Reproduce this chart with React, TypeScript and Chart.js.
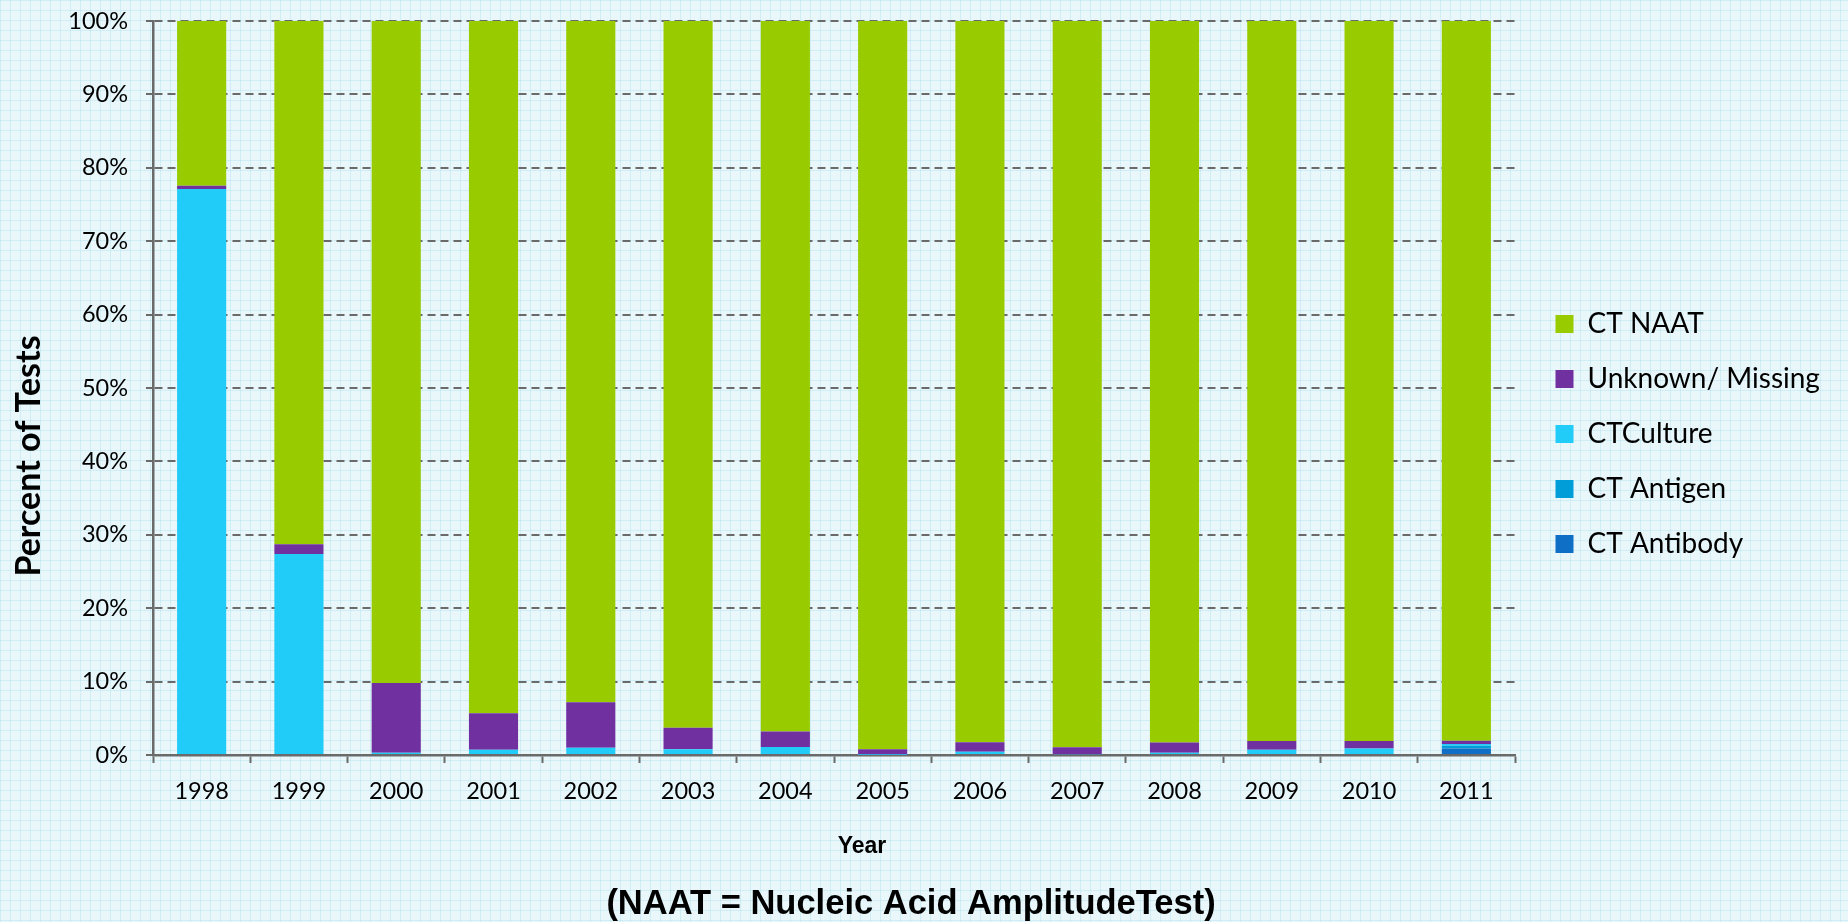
import React, { useEffect, useRef } from "react";
import { Chart, registerables } from "chart.js";

Chart.register(...registerables);

const YEARS = ["1998", "1999", "2000", "2001", "2002", "2003", "2004", "2005", "2006", "2007", "2008", "2009", "2010", "2011"];
const CT_ANTIBODY = [0, 0, 0, 0, 0, 0, 0, 0, 0, 0, 0, 0, 0, 0.9];
const CT_ANTIGEN = [0, 0, 0, 0, 0, 0, 0, 0, 0, 0, 0, 0, 0, 0.35];
const CT_CULTURE = [77.1, 27.4, 0.3, 0.7, 1.0, 0.8, 1.1, 0.05, 0.45, 0.1, 0.3, 0.7, 0.9, 0.25];
const UNKNOWN_MISSING = [0.45, 1.3, 9.5, 5.0, 6.2, 2.9, 2.1, 0.75, 1.3, 0.95, 1.4, 1.2, 1.0, 0.45];
const CT_NAAT = [22.45, 71.3, 90.2, 94.3, 92.8, 96.3, 96.8, 99.2, 98.25, 98.95, 98.3, 98.1, 98.1, 98.05];
const Y_TICKS = [0, 10, 20, 30, 40, 50, 60, 70, 80, 90, 100];

const Y_TITLE = "Percent of Tests";
const X_TITLE = "Year";
const FOOTNOTE = "(NAAT = Nucleic Acid AmplitudeTest)";

const GRID_GREY = "#6a6a6a";
const TICK_FONT = { family: "Lato", size: 23.5 };

const layoutPlugin = {
  id: "layoutTweaks",
  beforeLayout(chart: any) {
    const lg = chart.legend;
    if (lg && !lg._patched) {
      const orig = lg.fit.bind(lg);
      lg.fit = () => {
        orig();
        lg.width = 333;
      };
      lg._patched = true;
    }
  },
  afterLayout(chart: any) {
    const lg = chart.legend;
    if (!lg) return;
    const w = lg.width;
    const h = lg.height;
    lg.left = chart.chartArea.right + 13.5;
    lg.right = lg.left + w;
    lg.top = 283;
    lg.bottom = lg.top + h;
  },
  afterDraw(chart: any) {
    const { ctx, chartArea } = chart;
    ctx.save();
    ctx.fillStyle = "#000";
    ctx.textAlign = "center";
    ctx.textBaseline = "middle";
    const cx = (chartArea.left + chartArea.right) / 2;
    ctx.font = 'bold 23px "Liberation Sans"';
    ctx.fillText(X_TITLE, cx + 28, chartArea.bottom + 92);
    ctx.font = 'bold 34.5px "Liberation Sans"';
    ctx.fillText(FOOTNOTE, cx + 77, chartArea.bottom + 149);
    const cy = (chartArea.top + chartArea.bottom) / 2;
    ctx.translate(29, cy + 68);
    ctx.rotate(-Math.PI / 2);
    ctx.font = 'bold 34px Lato';
    ctx.fillText(Y_TITLE, 0, 0);
    ctx.restore();
  },
};

export default function App() {
  const ref = useRef<HTMLCanvasElement | null>(null);

  useEffect(() => {
    if (!ref.current) return;
    const mk = (label: string, data: number[], color: string) => ({
      label,
      data,
      backgroundColor: color,
      borderWidth: 0,
      barPercentage: 0.505,
      categoryPercentage: 1,
    });
    const chart = new Chart(ref.current, {
      type: "bar",
      data: {
        labels: YEARS,
        datasets: [
          mk("CT Antibody", CT_ANTIBODY, "#0f6fc6"),
          mk("CT Antigen", CT_ANTIGEN, "#009dd9"),
          mk("CTCulture", CT_CULTURE, "#22ccf8"),
          mk("Unknown/ Missing", UNKNOWN_MISSING, "#7030a0"),
          mk("CT NAAT", CT_NAAT, "#99cc00"),
        ],
      },
      options: {
        animation: false,
        responsive: false,
        maintainAspectRatio: false,
        layout: { padding: { left: 0, right: 0, top: 21, bottom: 0 } },
        plugins: {
          legend: {
            position: "right",
            align: "start",
            reverse: true,
            labels: {
              boxWidth: 18,
              boxHeight: 18,
              padding: 27,
              color: "#000",
              font: { family: "Lato", size: 28 },
            },
          },
          tooltip: { enabled: false },
          title: { display: false },
        },
        scales: {
          x: {
            stacked: true,
            offset: true,
            afterFit: (s: any) => {
              s.height = 167;
              s.paddingLeft = 0;
              s.paddingRight = 0;
            },
            grid: {
              display: true,
              drawOnChartArea: false,
              drawTicks: true,
              tickLength: 8,
              tickColor: GRID_GREY,
              tickWidth: 2,
              offset: true,
            },
            border: { display: true, color: GRID_GREY, width: 2.5 },
            ticks: { color: "#000", font: TICK_FONT, padding: 14, maxRotation: 0 },
          },
          y: {
            stacked: true,
            min: 0,
            max: 100,
            afterFit: (s: any) => {
              s.width = 153;
              s.paddingTop = 0;
              s.paddingBottom = 0;
            },
            afterBuildTicks: (s: any) => {
              s.ticks = Y_TICKS.map((v) => ({ value: v }));
            },
            grid: {
              color: GRID_GREY,
              lineWidth: 2,
              tickLength: 7,
              tickColor: GRID_GREY,
              tickWidth: 2,
              tickBorderDash: [],
            },
            border: { display: true, color: GRID_GREY, width: 2.5, dash: [8, 5] },
            ticks: {
              color: "#000",
              font: TICK_FONT,
              padding: 18,
              callback: (v: any) => v + "%",
            },
          },
        },
      },
      plugins: [layoutPlugin],
    });
    return () => chart.destroy();
  }, []);

  return (
    <div
      style={{
        position: "fixed",
        left: 0,
        top: 0,
        width: 1848,
        height: 922,
        backgroundColor: "#e9f7fb",
        backgroundImage:
          "linear-gradient(rgba(175,225,238,0.45) 1px, transparent 1px), linear-gradient(90deg, rgba(175,225,238,0.45) 1px, transparent 1px)",
        backgroundSize: "10px 10px",
      }}
    >
      <canvas ref={ref} width={1848} height={922} style={{ display: "block" }} />
    </div>
  );
}
